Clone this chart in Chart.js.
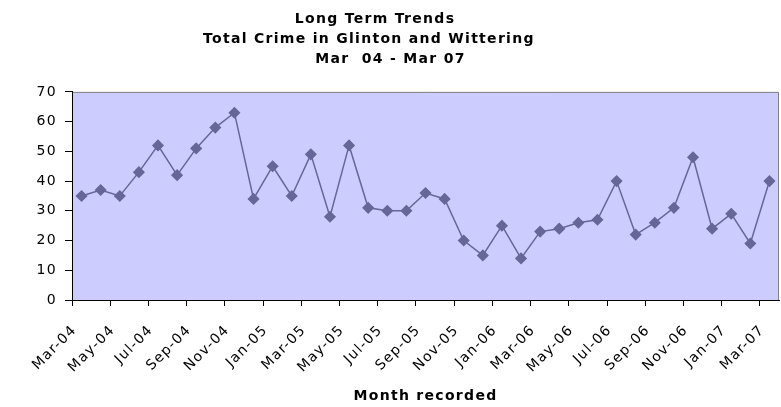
<!DOCTYPE html>
<html>
<head>
<meta charset="utf-8">
<script src="https://cdn.jsdelivr.net/npm/chart.js@4/dist/chart.umd.min.js"></script>
<style>
  body { margin: 0; background: #fff; }
  #wrap { width: 781px; height: 407px; }
</style>
</head>
<body>
<div id="wrap"><canvas id="chartCanvas"></canvas></div>
<script>
// monthly totals, Mar-04 .. Mar-07
const months = [
    'Mar-04', 'Apr-04', 'May-04', 'Jun-04', 'Jul-04', 'Aug-04', 'Sep-04', 'Oct-04', 'Nov-04', 'Dec-04',
    'Jan-05', 'Feb-05', 'Mar-05', 'Apr-05', 'May-05', 'Jun-05', 'Jul-05', 'Aug-05', 'Sep-05', 'Oct-05',
    'Nov-05', 'Dec-05', 'Jan-06', 'Feb-06', 'Mar-06', 'Apr-06', 'May-06', 'Jun-06', 'Jul-06', 'Aug-06',
    'Sep-06', 'Oct-06', 'Nov-06', 'Dec-06', 'Jan-07', 'Feb-07', 'Mar-07'
];
const totalCrime = [
    35, 37, 35, 43, 52, 42, 51, 58, 63, 34,
    45, 35, 49, 28, 52, 31, 30, 30, 36, 34,
    20, 15, 25, 14, 23, 24, 26, 27, 40, 22,
    26, 31, 48, 24, 29, 19, 40
];
const yTicks = [0, 10, 20, 30, 40, 50, 60, 70];
// the original title lines carry trailing spaces, which pull them left of centre
const titleLines = ['Long Term Trends     ', 'Total Crime in Glinton and Wittering       ', 'Mar  04 - Mar 07'];

const font = "'DejaVu Sans', Arial, sans-serif";

// the original text is rendered wide, so open the letters up a bit
const wideText = {
    id: 'wideText',
    beforeLayout(chart) { chart.ctx.letterSpacing = '1.3px'; },
    beforeDraw(chart) { chart.ctx.letterSpacing = '1.3px'; }
};

// lilac plot area with grey top/right edges
const plotBackground = {
    id: 'plotBackground',
    beforeDraw(chart) {
        const { ctx, chartArea: a } = chart;
        ctx.save();
        ctx.fillStyle = '#ccccff';
        ctx.fillRect(a.left, a.top, a.right - a.left, a.bottom - a.top);
        ctx.strokeStyle = '#808080';
        ctx.lineWidth = 1;
        ctx.beginPath();
        ctx.moveTo(a.left, a.top + 0.5);
        ctx.lineTo(a.right - 0.5, a.top + 0.5);
        ctx.lineTo(a.right - 0.5, a.bottom);
        ctx.stroke();
        ctx.restore();
    }
};

const ctx = document.getElementById('chartCanvas').getContext('2d');
new Chart(ctx, {
    type: 'line',
    data: {
        labels: months,
        datasets: [{
            label: 'Total Crime',
            data: totalCrime,
            borderColor: '#666699',
            backgroundColor: '#666699',
            borderWidth: 1.5,
            pointStyle: 'rectRot',
            pointRadius: 5,
            pointHoverRadius: 5,
            tension: 0
        }]
    },
    options: {
        responsive: true,
        maintainAspectRatio: false,
        animation: false,
        layout: { autoPadding: false, padding: { top: 5, right: 0, left: 0, bottom: 2 } },
        plugins: {
            legend: { display: false },
            tooltip: { enabled: false },
            title: {
                display: true,
                text: titleLines,
                color: '#000',
                font: { family: font, size: 14, weight: 'bold', lineHeight: 1.45 },
                padding: { top: 4, bottom: 22 }
            }
        },
        scales: {
            x: {
                offset: true,
                afterFit: axis => {
                    axis.height = 105;
                    axis.paddingRight = 2;
                },
                grid: {
                    offset: true,
                    drawOnChartArea: false,
                    tickLength: 20,
                    tickBorderDash: [5, 60],
                    color: c => (c.index % 2 === 0 ? '#000' : 'rgba(0,0,0,0)')
                },
                border: { color: '#000', width: 1 },
                ticks: {
                    autoSkip: false,
                    minRotation: 45,
                    maxRotation: 45,
                    color: '#000',
                    font: { family: font, size: 14 },
                    padding: 2,
                    labelOffset: -7,
                    callback: function (value, index) {
                        return index % 2 === 0 ? this.getLabelForValue(value) : '';
                    }
                },
                title: {
                    display: true,
                    text: 'Month recorded',
                    color: '#000',
                    font: { family: font, size: 14, weight: 'bold' },
                    padding: { top: 10, bottom: 0 }
                }
            },
            y: {
                min: yTicks[0],
                max: yTicks[yTicks.length - 1],
                afterBuildTicks: axis => { axis.ticks = yTicks.map(v => ({ value: v })); },
                afterFit: axis => { axis.width = 72; },
                grid: { drawOnChartArea: false, tickLength: 7, color: '#000' },
                border: { color: '#000', width: 1 },
                ticks: {
                    color: '#000',
                    font: { family: font, size: 14 },
                    padding: 8
                }
            }
        }
    },
    plugins: [wideText, plotBackground]
});
</script>
</body>
</html>
